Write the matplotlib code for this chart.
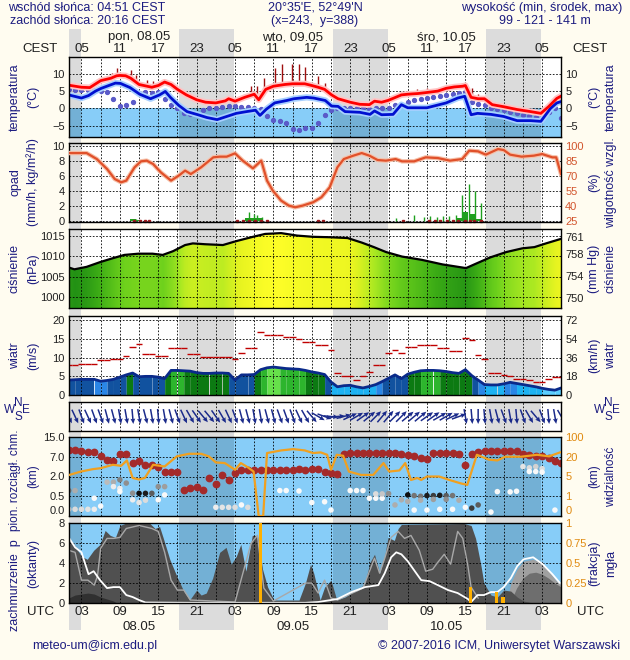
import numpy as np
import matplotlib
matplotlib.use("Agg")
import matplotlib.pyplot as plt
from matplotlib.colors import LinearSegmentedColormap, ListedColormap, BoundaryNorm, Normalize

plt.rcParams['font.family'] = ['Liberation Sans', 'DejaVu Sans']
plt.rcParams['font.size'] = 8

NAVY = '#1c1c80'
BG = '#fffcf0'
SKY = '#87cdf8'
ORANGE = '#f0a020'

# time axis: hours after 00 UTC 08.05
T_START, T_END = 1.05, 77.95
SUNRISE = 2 + 51 / 60    # 04:51 CEST
SUNSET = 18 + 16 / 60    # 20:16 CEST
hours = np.arange(1, 79)

# ---------------- temperature ----------------
temp_t = [1, 3, 4.3, 5.4, 6, 7.6, 8.5, 9, 9.9, 10.7, 12, 14, 15, 16, 17, 18, 19.4, 21, 22.4, 24,
          25.5, 26, 27, 28.5, 30, 30.7, 31.8, 33, 34.8, 36, 37.9, 39, 40, 41, 42.1, 43.1, 45, 46.5, 48, 48.8,
          49.9, 50.9, 51.7, 53, 54, 55.6, 57, 58.7, 60, 61.3, 62.6, 63, 63.9, 65, 66, 67.2, 69, 71.1, 73.2, 74.8,
          76, 77.3, 78]
temp = [6.7, 6.1, 6.0, 7.3, 8.0, 8.7, 9.4, 9.5, 9.4, 8.7, 6.9, 6.1, 6.6, 7.6, 6.9, 5.5, 3.9, 2.5, 1.8, 1.6,
        2.2, 2.8, 2.1, 3.2, 4.1, 2.5, 5.5, 6.4, 6.9, 7.1, 7.1, 6.6, 6.1, 5.5, 3.9, 2.8, 1.8, 1.2, 1.1, 2.1,
        1.8, 2.3, 2.9, 3.9, 4.1, 4.3, 4.6, 5.0, 5.8, 6.2, 6.4, 6.6, 3.2, 2.8, 2.8, 1.1, 0.5, -0.3, -0.9, -1.4,
        0.5, 2.9, 3.6]
dew_t = [1.0, 3.0, 4.1, 5.2, 6.1, 8.3, 9.1, 10.6, 12.1, 13.8, 15.2, 16.1, 16.9, 18.2, 19.5, 21.2, 22.6, 24.2,
         25.7, 27.2, 28.8, 30.2, 30.9, 31.9, 33.2, 35.1, 36.2, 38.2, 39.3, 41.1, 42.1, 43.1, 44.2, 46.5, 48.1,
         48.8, 49.9, 51.7, 53.0, 54.0, 57.0, 60.0, 61.8, 62.9, 63.9, 64.9, 67.0, 69.0, 71.1, 73.2, 74.8, 76.3,
         77.3, 78.0]
dew = [3.9, 3.0, 3.7, 5.0, 5.8, 7.3, 7.2, 6.0, 4.1, 2.8, 3.9, 4.9, 3.2, 0.9, -0.9, -1.8, -2.6, -3.2,
       -2.3, -1.4, -0.9, -0.5, -2.0, -0.2, 1.6, 2.3, 2.8, 3.2, 3.0, 2.3, 0.7, 0.6, -0.9, -1.1, -1.7,
       -0.7, -1.8, -1.7, 1.1, 0.2, 0.2, 1.6, 3.0, 3.5, -1.8, -1.4, -1.7, -2.3, -3.5, -3.5, -3.7, 0.0,
       1.6, 2.0]
ground_t = [5.5, 5.3, 5.2, 5.3, 5.3, 5.0, 4.6, 2.8, 0.6, 0.9, 2.0, 4.4, 4.6, 4.4, 4.6, 2.8, 0.9, 0.0, -1.4, -1.7,
            -1.7, -0.5, 0.0, 0.2, 0.5, 0.7, 0.6, 0.5, 0.3, 0.2, -0.2, -2.1, -3.2, -3.7, -4.1, -6.0, -6.2, -5.7,
            -5.5, -4.1, -1.8, -0.5, 0.0, 0.1, 0.2, 0.1, 0.0, -0.2, 0.0, 0.1, 0.2, 1.1, 1.1, 1.8, 2.3, 2.8, 3.0,
            3.4, 3.7, 3.9, 4.1, 4.4, 4.6, 1.8, 1.2, 0.9, 0.2, -0.2, -0.5, -0.9, -1.4, -2.0, -2.3, -2.5, -1.8,
            -0.9, 0.0, -2.6]
tbar_t = [5.4, 7.7, 8.6, 10.8, 11.5, 13.2, 14.2, 16.0, 19.7, 21.5, 29.5, 30.5, 31.5, 33.2, 34.4, 35.9, 37.0,
          38.0, 40.0, 41.0, 43.5, 45.0, 47.0, 55.5, 57.0, 58.5, 60.0, 61.5, 62.5, 63.0, 64.0, 65.0, 67.0, 69.0,
          71.0, 73.0, 76.2]
tbar_lo = [7.3, 8.6, 9.4, 8.7, 8.0, 6.5, 6.1, 7.6, 3.6, 2.3, 3.5, 2.6, 5.2, 6.5, 6.9, 7.1, 7.1, 7.1, 6.1, 5.5,
           2.6, 1.8, 1.2, 4.3, 4.6, 5.0, 5.8, 6.2, 6.4, 3.5, 3.2, 2.8, 1.1, 0.5, -0.3, -0.9, 0.5]
tbar_hi = [8.3, 10.1, 11.5, 11.0, 9.6, 8.3, 7.8, 8.3, 4.4, 2.9, 6.4, 6.4, 8.7, 11.5, 12.8, 12.8, 12.8, 11.9,
           9.2, 7.3, 3.3, 2.5, 1.8, 5.5, 5.8, 6.0, 6.6, 7.0, 7.2, 6.6, 6.0, 4.1, 1.8, 1.2, 0.3, -0.3, 1.5]

# ---------------- precipitation / humidity ----------------
prec_t = [11, 12, 13, 29, 30, 31, 55, 56, 57, 62, 63, 64, 65]
prec = [0.3, 0.15, 0.05, 0.4, 0.5, 0.4, 0.1, 0.1, 0.1, 0.4, 1.2, 1.0, 0.3]
spike_t = [11.5, 29.2, 30.0, 30.5, 31.2, 52.2, 55.0, 56.6, 57.5, 58.5, 59.5, 60.5, 61.5, 62.5, 63.5, 64.5, 65.4]
spike = [0.35, 1.3, 1.0, 0.9, 0.6, 0.5, 0.8, 0.6, 0.7, 0.6, 0.7, 0.7, 0.8, 3.5, 5.0, 4.0, 2.5]
snow_t = [11.2, 12.1, 13.0, 13.6, 27.3, 28.2, 29.2, 30.1, 31.0, 32.0, 39.9, 40.8, 53.3, 57.3, 58.2, 59.1,
          60.1, 61.0, 61.9, 62.9, 63.8, 64.4, 65.4]
hum_t = [1.1, 3.8, 5.4, 7.0, 8.2, 9.2, 10.0, 11.3, 12.3, 13.2, 14.2, 15.4, 17.0, 18.2, 19.2, 20.1, 21.7, 23.6,
         24.6, 25.7, 27.0, 28.2, 29.8, 31.1, 32.0, 32.9, 34.2, 35.4, 36.4, 37.6, 39.2, 40.5, 41.8, 43.0, 44.0,
         45.5, 46.8, 48.0, 49.3, 50.6, 52.1, 53.1, 55.0, 56.8, 58.7, 60.6, 62.5, 63.6, 65.0, 66.2, 68.1, 69.0,
         70.0, 71.8, 73.7, 75.0, 76.6, 77.2, 77.95]
hum = [93.3, 93.3, 87.3, 77.3, 67.3, 64.0, 65.7, 79.0, 85.0, 85.7, 82.3, 74.0, 65.7, 70.7, 75.7, 72.3, 79.0, 89.0,
       89.7, 89.7, 93.0, 85.7, 78.0, 85.7, 65.7, 55.7, 45.7, 40.7, 39.0, 40.7, 44.0, 49.0, 59.0, 79.0, 87.3,
       90.7, 93.3, 90.7, 86.3, 85.7, 87.3, 85.0, 85.0, 89.0, 88.3, 85.7, 87.3, 95.7, 95.0, 91.7, 97.3, 96.3,
       91.7, 89.7, 90.7, 92.3, 89.0, 89.0, 72.3]

# ---------------- pressure ----------------
pres_t = [1.1, 1.9, 3.8, 6.0, 7.9, 9.7, 11.9, 14.1, 15.7, 17.3, 19.2, 20.4, 22.3, 25.1, 27.3, 29.8, 31.7, 34.2,
          36.7, 39.2, 41.8, 44.6, 46.8, 48.7, 50.6, 53.1, 56.2, 59.4, 63.1, 64.7, 66.9, 69.4, 71.9, 73.8, 75.6,
          77.95]
pres = [1007.2, 1006.8, 1007.4, 1008.6, 1009.5, 1010.3, 1010.6, 1010.6, 1010.3, 1011.2, 1012.7, 1013.1, 1012.9,
        1012.7, 1013.7, 1014.7, 1015.4, 1015.6, 1015.0, 1014.7, 1014.6, 1014.4, 1013.3, 1012.2, 1011.0, 1009.9,
        1009.1, 1008.0, 1007.1, 1008.2, 1009.7, 1011.0, 1011.9, 1012.2, 1013.1, 1014.2]

# ---------------- wind (hourly) ----------------
wspd = [4.0, 4.1, 4.2, 4.2, 4.2, 3.7, 3.9, 4.2, 4.8, 5.4, 5.9, 4.9, 5.0, 5.0, 4.8, 4.4, 6.6, 6.6, 6.5, 6.4,
        6.0, 5.8, 5.8, 5.9, 5.9, 5.8, 4.0, 5.4, 5.4, 5.5, 6.8, 7.3, 7.5, 7.3, 7.1, 7.0, 6.9, 6.6, 6.2, 5.9,
        5.5, 3.5, 2.2, 2.5, 2.6, 2.2, 1.9, 2.3, 2.8, 3.6, 4.5, 5.4, 4.4, 5.6, 6.1, 6.5, 6.6, 6.6, 6.5, 6.3,
        6.0, 5.8, 6.8, 5.2, 4.0, 2.8, 2.7, 2.7, 3.0, 3.4, 3.1, 2.8, 2.5, 2.2, 1.8, 1.5, 1.3, 1.9]
gust = [8.1, 8.1, 8.4, 8.4, 8.4, 9.3, 9.3, 9.7, 9.7, 10.6, 12.8, 13.7, 11.1, 11.1, 10.6, 10.6, 12.7, 12.7, 12.7,
        11.1, 11.1, 10.2, 10.2, 10.2, 10.2, 10.2, 9.6, 11.3, 12.7, 12.7, 17.0, 16.1, 16.1, 16.1, 15.5, 15.5, 14.9,
        14.2, 14.2, 13.3, 13.3, 12.1, 5.8, 5.0, 5.0, 4.0, 5.0, 6.2, 8.1, 8.1, 11.2, 12.1, 11.2, 12.8, 12.8, 13.5,
        13.5, 13.5, 12.6, 12.6, 11.8, 11.8, 15.3, 14.8, 10.8, 9.7, 5.8, 5.8, 5.5, 5.1, 4.4, 4.4, 4.0, 3.4, 3.4,
        4.2, 4.9, 4.9]
wdir = [335, 335, 340, 335, 340, 340, 345, 345, 350,
        350, 355, 350, 345, 350, 355, 350, 345, 340,
        335, 330, 325, 320, 320, 325, 330, 335, 340,
        345, 345, 350, 350, 345, 345, 340, 340, 340,
        335, 330, 320, 300, 290, 275,
        265, 255, 245, 240, 235, 230,
        225, 220, 220, 225, 225, 230, 230, 230, 235, 235, 240, 240, 245, 250,
        350, 355, 0, 355, 350, 345, 340, 350, 355, 340, 330, 320, 340, 355, 350, 330]

# ---------------- cloud extent / visibility ----------------
CB_LEVELS = [0, 0.5, 2, 7, 15]
VIS_LEVELS = [0, 1, 5, 20, 100]
cloud_top = [9.6, 9.6, 9.2, 8.9, 8.9, 7.2, 6.25, 5.8, 8.2, 8.2, 5.4, 5.8, 4.95, 4.95, 4.35, 3.1, 3.1, 3.1, 0.98,
             1.1, 1.2, 0.98, 1.9, 1.45, 2.4, 1.7, 3.0, 3.55, 3.7, 3.7, 3.55, 3.55, 3.55, 3.55, 3.55, 3.7, 3.85,
             3.7, 3.85, 3.95, 3.25, 3.0, 2.6, 8.2, 8.5, 8.5, 8.5, 8.5, 8.5, 8.5, 8.5, 8.5, 8.2, 7.8, 7.4, 6.65,
             6.4, 8.5, 8.5, 8.5, 8.5, 8.2, 4.95, 8.2, 8.9, 9.2, 9.2, 9.2, 9.2, 9.2, 9.2, 8.2, 7.8, 7.4, 7.2,
             6.65, 5.8, 5.5]
layer_t = [1, 2, 1, 2, 3, 4, 5, 6, 5, 7, 8, 9, 10, 8, 9, 9, 11, 12, 13, 14, 11, 12, 13, 15, 16, 15, 16,
           24, 25, 26, 27, 28, 29, 34, 35, 37, 39, 41, 42, 45, 46, 47, 48, 49, 50, 49, 50, 51,
           52, 53, 54, 55, 56, 57, 58, 59, 60, 61, 54, 56, 58, 60, 62, 55, 57, 59, 61, 63, 64, 65,
           67, 68, 70, 71, 72, 73, 74, 75, 73, 74, 75, 77]
layer_h = [0.93, 0.93, 0.17, 0.17, 0.17, 0.17, 0.17, 0.25, 0.45, 1.57, 1.57, 1.75, 1.5, 1.23, 1.1, 0.86,
           0.73, 0.72, 0.72, 0.72, 0.41, 0.34, 0.4, 1.23, 1.23, 0.41, 0.6,
           0.22, 0.22, 0.22, 0.22, 0.28, 0.22, 0.93, 0.93, 0.9, 0.34, 0.36, 0.15, 0.93, 0.93, 0.93,
           0.45, 0.45, 0.45, 0.68, 0.68, 0.7,
           0.28, 0.41, 0.6, 0.55, 0.5, 0.55, 0.55, 0.57, 0.55, 0.55, 0.37, 0.4, 0.42, 0.42, 0.4,
           0.15, 0.15, 0.17, 0.17, 0.22, 0.2, 0.28,
           0.1, 0.85, 0.83, 0.88, 4.5, 4.2, 4.5, 4.0, 3.25, 3.25, 3.1, 0.15]
layer_c = [0.6, 0.4, 0.2, 0.2, 0.2, 0.15, 0.1, 0.0, 0.0, 0.35, 0.4, 0.55, 0.5, 0.1, 0.1, 0.0,
           0.5, 0.95, 0.9, 0.7, 0.1, 0.15, 0.2, 0.5, 0.45, 0.0, 0.0,
           0.1, 0.15, 0.15, 0.2, 0.0, 0.2, 0.0, 0.0, 0.0, 0.0, 0.0, 0.0, 0.0, 0.0, 0.0,
           0.0, 0.0, 0.0, 0.2, 0.3, 0.5,
           0.4, 0.4, 0.95, 0.6, 0.6, 0.9, 0.8, 0.9, 0.7, 0.6, 0.4, 0.4, 0.45, 0.5, 0.4,
           0.0, 0.0, 0.0, 0.0, 0.0, 0.8, 0.7,
           0.0, 0.0, 0.0, 0.0, 0.15, 0.2, 0.25, 0.2, 0.0, 0.0, 0.0, 0.0]
vis_t = [1.1, 2.9, 4.8, 6.0, 7.9, 9.2, 10.1, 11.0, 12.0, 12.9, 14.2, 16.0, 17.9, 19.8, 21.7, 22.9, 24.0, 25.4,
         27.0, 27.9, 29.0, 29.9, 30.7, 31.4, 32.0, 34.2, 36.1, 37.9, 39.2, 40.4, 41.4, 42.0, 42.9, 43.9, 44.8,
         46.7, 48.6, 50.2, 51.1, 52.7, 53.6, 54.5, 55.5, 56.1, 57.0, 58.9, 60.5, 62.3, 63.3, 64.8, 66.7, 68.0,
         69.2, 71.7, 74.2, 76.1, 77.8]
vis = [6.2, 8.75, 10.6, 11.3, 13.9, 13.1, 17.2, 4.7, 4.4, 4.7, 13.9, 12.6, 21.6, 32, 32, 21.6, 15.7, 15.2,
       10.1, 15.2, 12.0, 8.75, 0, 0, 35, 45.6, 51, 45.6, 35, 37.6, 28, 10.1, 28, 24, 8.75,
       6.2, 6.2, 15.2, 8.75, 9.6, 15.2, 4.3, 4.7, 4.3, 5, 5, 4.3, 3.6, 3.3, 28, 17.8, 17.2,
       20, 20, 28, 21.6, 37.6]

# ---------------- cloud cover (octants) / fog ----------------
cov_total_t = [1, 1.8, 3, 3.9, 4.9, 5.9, 6.7, 7.5, 8.3, 9, 9.8, 13.7, 14.5, 15.2, 15.8, 16.8, 17.9, 18.9, 19.9,
               21, 21.7, 22.5, 23.5, 24.6, 25.6, 26.4, 27.2, 27.9, 28.7, 29.7, 30.5, 31.3, 32.1, 33.1, 34.9, 37,
               38, 38.8, 39.3, 40.3, 41, 42, 42.9, 44.2, 45.2, 46.3, 47.3, 48.1, 48.8, 49.6, 50.4, 50.9, 51.9,
               52.5, 53, 62.8, 63.9, 64.6, 65.4, 65.9, 67, 68, 69, 70.1, 71.1, 72.1, 73.6, 78]
cov_total = [6.6, 5.9, 4.7, 4.4, 5.3, 5.9, 7.3, 6.8, 6.6, 7.8, 8, 8, 7.5, 7.7, 6.5, 4.4, 2.7, 1.3, 0.3,
             1.3, 0.8, 1.0, 2.5, 5.1, 5.6, 3.9, 4.7, 5.9, 3.2, 6.8, 6.8, 3.4, 1.6, 0.3, 0.3, 0.3,
             2.0, 3.9, 3.0, 0.3, 1.6, 2.3, 0.3, 0.6, 1.0, 1.3, 2.0, 4.1, 4.9, 3.0, 4.7, 6.6, 6.3,
             7.5, 7.9, 8, 7.8, 6.5, 3.9, 2.0, 0.8, 0.6, 1.3, 1.2, 0.6, 0.2, 0.0, 0.0]
cov_light_t = [69.5, 70.1, 71.1, 72.1, 73.6, 74.7, 75.8, 77.3, 78]
cov_light = [0, 2.0, 3.4, 4.2, 4.4, 4.1, 3.4, 2.2, 1.8]
cov_medium_t = [70, 71, 72, 73, 74, 75, 76, 77, 78]
cov_medium = [0, 1.5, 2.5, 3.0, 3.1, 2.9, 2.5, 2.0, 1.6]
cov_dark_t = [1, 2, 3, 4, 5, 6, 7, 8, 8.5]
cov_dark = [0.5, 0.8, 0.9, 1.0, 0.9, 0.6, 0.4, 0.2, 0]
white_t = [1, 2, 3, 4.1, 4.9, 5.9, 7, 8, 9, 10, 11, 12, 13, 20, 30, 38, 40, 43, 45.2, 47.3, 49.4, 50.4, 51.4,
           52.2, 53, 54, 55.1, 56.1, 57.4, 58.7, 60.3, 61.8, 63.4, 63.9, 64.9, 65.9, 67, 68, 69, 70.1, 71.1,
           72.1, 73.6, 75.1, 76.6, 77.8]
white_v = [6.6, 5.6, 5.1, 2.9, 3.2, 2.3, 1.5, 1.6, 1.6, 0.8, 0.6, 0.3, 0.05, 0.02, 0.02, 0.02, 0.1, 0.4, 1.1,
           1.6, 1.8, 3.0, 4.6, 5.1, 4.9, 4.2, 3.2, 2.3, 2.2, 1.8, 1.3, 1.0, 0.4, 0.1, 0.8, 0.8, 1.1, 1.1, 1.6,
           2.5, 3.7, 4.4, 4.6, 3.9, 2.9, 2.0]
grey_t = [1, 2, 3, 4, 5, 5.5, 6, 7, 8, 9, 10, 12, 14, 15, 16, 17, 18, 19, 20, 27, 29.5, 30.5, 31.5, 33,
          38, 39, 40, 41, 42, 43, 47, 48.8, 49.6, 50.4, 51.4, 52.5, 53.5, 54.5, 55.8, 56.8, 57.9, 58.7, 59.7,
          60.7, 61.8, 62.6, 63.4, 63.9, 65]
grey_v = [5.3, 5.1, 2.3, 2.3, 1.8, 2.7, 5.5, 6.5, 6.5, 6.6, 7.5, 7.8, 7.5, 7.2, 5.1, 2.3, 1.3, 1.3, 0.3, 0.1,
          6.0, 6.8, 1.5, 0.2, 2.0, 2.0, 1.0, 2.3, 0.5, 0.3, 1.5, 4.5, 3.0, 4.5, 6.6, 7.2, 6.5, 6.8, 5.3, 3.2,
          3.4, 4.1, 4.9, 3.9, 7.2, 6.5, 3.7, 1.6, 0.5]
fog_t = [31, 63.8, 67.9, 68.9]
fog = [1.0, 0.2, 0.14, 0.08]

# ================= drawing =================
W, H = 630, 660
fig = plt.figure(figsize=(6.3, 6.6), dpi=100, facecolor=BG)
nights = [(SUNSET + 24 * d, SUNRISE + 24 * (d + 1)) for d in range(-1, 4)]


def box(top, bottom):
    return [69 / W, 1 - bottom / H, 492 / W, (bottom - top) / H]


# background strip with night shading behind everything
bg = fig.add_axes([69 / W, 0, 492 / W, 1], zorder=-5)
bg.set_xlim(T_START, T_END)
bg.set_ylim(0, 1)
bg.axis('off')
for a, b in nights:
    bg.axvspan(a, b, ymin=1 - 630 / H, ymax=1 - 29 / H, color='#dcdcdc', lw=0)


def panel(top, bottom, face='white', grid=True):
    ax = fig.add_axes(box(top, bottom))
    ax.set_facecolor(face)
    ax.set_xlim(T_START, T_END)
    ax.set_xticks(np.arange(3, 78, 3))
    ax.tick_params(length=0, labelbottom=False, labelsize=8, pad=3, colors='#202020')
    if grid:
        ax.grid(True, color='black', ls=(0, (2, 2)), lw=0.6, zorder=2.5)
    for s in ax.spines.values():
        s.set_linewidth(1.0)
        s.set_zorder(10)
    for a, b in nights:
        ax.axvspan(a, b, color='black', alpha=0.14, lw=0, zorder=0.6)
    return ax


def right_axis(ax, lim, ticks, labels=None, color='#202020'):
    tw = ax.twinx()
    tw.set_ylim(*lim)
    tw.set_yticks(ticks)
    if labels is not None:
        tw.set_yticklabels(labels)
    tw.tick_params(length=0, labelsize=8, pad=3, colors=color)
    for s in tw.spines.values():
        s.set_visible(False)
    return tw


def side_labels(top, bottom, left, right, size=9, shift=0):
    y = 1 - (top + bottom) / 2 / H
    fig.text(15 / W, y - shift / H, left[0], rotation=90, ha='center', va='center', color=NAVY, fontsize=size)
    fig.text(33 / W, y, left[1], rotation=90, ha='center', va='center', color=NAVY, fontsize=size)
    fig.text(594 / W, y, right[0], rotation=90, ha='center', va='center', color=NAVY, fontsize=size)
    fig.text(611 / W, y, right[1], rotation=90, ha='center', va='center', color=NAVY, fontsize=size)


# ---- temperature ----
ax = panel(57, 137)
ax.axhspan(-30, 0, color=SKY, zorder=0.3, lw=0)
ax.set_ylim(-8.2, 14.8)
ax.set_yticks([-5, 0, 5, 10])
ax.vlines(tbar_t, tbar_lo, tbar_hi, color='#a01010', lw=1, zorder=3)
ax.plot(hours, ground_t, 'o', ms=2.8, color='#5a5ac8', zorder=3)
ax.plot(dew_t, dew, color='#a8d0ff', lw=4.5, zorder=3, solid_capstyle='butt')
ax.plot(temp_t, temp, color='#ffc4c4', lw=4.5, zorder=3, solid_capstyle='butt')
ax.plot(dew_t, dew, color='#0010d0', lw=2, zorder=4)
ax.plot(temp_t, temp, color='#ff0000', lw=2, zorder=4)
right_axis(ax, ax.get_ylim(), [-5, 0, 5, 10])
side_labels(57, 137, ("temperatura", "(°C)"), ("(°C)", "temperatura"))

# ---- precipitation / humidity ----
ax = panel(143, 222)
ax.set_ylim(-0.1, 10.45)
ax.set_yticks(range(0, 11, 2))
ax.bar(prec_t, prec, width=0.9, color='#1ea01e', zorder=3)
ax.vlines(spike_t, 0, spike, color='#1ea01e', lw=1, zorder=3)
ax.plot(snow_t, np.zeros(len(snow_t)), 's', ms=2.0, color='#9a1a1a', zorder=5, clip_on=False)
hx = right_axis(ax, (25 - 7.5 * 0.1, 25 + 7.5 * 10.45), range(25, 101, 15), color='#d2552d')
hx.plot(hum_t, hum, color='#f6c0a8', lw=3.2, zorder=2)
hx.plot(hum_t, hum, color='#e0502a', lw=1.6, zorder=3)
side_labels(143, 222, ("opad", "(mm/h, kg/m²/h)"), ("(%)", "wilgotność wzgl."))

# ---- pressure ----
ax = panel(229, 308)
pres_cmap = LinearSegmentedColormap.from_list(
    'pres', ['#1e8c14', '#3cac16', '#6cd01c', '#a8e822', '#e8f420', '#ffff28'])
xs = np.linspace(T_START, T_END, 500)
shade = np.interp(xs, pres_t, pres)[None, :]
img = ax.imshow(shade, extent=(T_START, T_END, 990, 1020), origin='lower', aspect='auto',
                cmap=pres_cmap, norm=Normalize(1006.5, 1015.8), zorder=1, interpolation='bilinear')
poly = ax.fill_between(pres_t, 990, pres, facecolor='none', edgecolor='none')
img.set_clip_path(poly.get_paths()[0], transform=ax.transData)
ax.plot(pres_t, pres, color='black', lw=1.6, zorder=4)
ax.set_xlim(T_START, T_END)
ax.set_ylim(997.4, 1016.6)
ax.set_yticks([1000, 1005, 1010, 1015])
right_axis(ax, (997.4 / 1.33322, 1016.6 / 1.33322), [750, 754, 758, 761])
side_labels(229, 308, ("ciśnienie", "(hPa)"), ("(mm Hg)", "ciśnienie"))

# ---- wind speed ----
ax = panel(316, 395)
ax.set_ylim(0, 21.2)
ax.set_yticks(range(0, 21, 5))
wind_cmap = ListedColormap(['#5ccfff', '#1db2f2', '#2a86e6', '#11529f', '#0c7a12', '#2db52d', '#66e04a'])
wind_norm = BoundaryNorm([0, 2.0, 3.2, 4.0, 5.5, 6.5, 7.2, 40], wind_cmap.N)
for i in range(len(hours) - 1):
    seg = wspd[i:i + 2]
    ax.fill_between(hours[i:i + 2], 0, seg, color=wind_cmap(wind_norm(np.mean(seg))), lw=0, zorder=1)
ax.plot(hours, wspd, color='#0a2a8a', lw=2, zorder=4)
ax.hlines(gust, hours - 0.5, hours + 0.5, color='#c00000', lw=1, zorder=4)
right_axis(ax, (0, 21.2 * 3.6), range(0, 73, 18))
side_labels(316, 395, ("wiatr", "(m/s)"), ("(km/h)", "wiatr"))

# ---- wind direction ----
ax = panel(402, 431, grid=False)
ax.set_yticks([])
ax.set_ylim(0, 1)
for t in np.arange(3, 78, 3):
    ax.axvline(t, color='black', ls=(0, (2, 2)), lw=0.6, zorder=2)
rad = np.radians(wdir)
ax.quiver(hours, np.full(len(hours), 0.5), -np.sin(rad), -np.cos(rad), angles='uv', pivot='middle',
          units='dots', scale_units='dots', scale=1 / 15, width=1.5, headwidth=3.2, headlength=3.6,
          headaxislength=3.2, color='#1a2a8a', zorder=4)
for cx in (18, 608):
    fig.text(cx / W, 1 - 403 / H, "N", ha='center', va='center', color=NAVY, fontsize=8.5)
    fig.text((cx - 8) / W, 1 - 410 / H, "W", ha='center', va='center', color=NAVY, fontsize=8.5)
    fig.text((cx + 8) / W, 1 - 410 / H, "E", ha='center', va='center', color=NAVY, fontsize=8.5)
    fig.text(cx / W, 1 - 417 / H, "S", ha='center', va='center', color=NAVY, fontsize=8.5)


# ---- cloud vertical extent / visibility ----
def km_fwd(y):
    return np.interp(np.asarray(y, float), CB_LEVELS, range(5))


def km_inv(i):
    return np.interp(np.asarray(i, float), range(5), CB_LEVELS)


def vis_fwd(y):
    return np.interp(np.asarray(y, float), VIS_LEVELS, range(5))


def vis_inv(i):
    return np.interp(np.asarray(i, float), range(5), VIS_LEVELS)


ax = panel(437, 516, face=SKY)
ax.set_yscale('function', functions=(km_fwd, km_inv))
ax.set_ylim(0, 15.25)
ax.set_yticks(CB_LEVELS)
ax.set_yticklabels([f"{v:.1f}" for v in CB_LEVELS])
ax.get_yticklabels()[0].set_va('bottom')
ax.scatter(layer_t, layer_h, c=layer_c, cmap='Greys', vmin=-0.05, vmax=1.0, s=16, lw=0, zorder=3)
ax.plot(hours, cloud_top, 'o', ms=4.6, color='#a42a2a', zorder=4)
vx = ax.twinx()
vx.set_yscale('function', functions=(vis_fwd, vis_inv))
vx.set_ylim(0, 102.4)
vx.set_yticks(VIS_LEVELS)
vx.set_yticklabels([str(v) for v in VIS_LEVELS])
vx.get_yticklabels()[0].set_va('bottom')
vx.tick_params(length=0, labelsize=8, pad=3, colors='#e08a10')
for s in vx.spines.values():
    s.set_visible(False)
vx.plot(vis_t, vis, color=ORANGE, lw=1.6, zorder=3)
side_labels(437, 516, ("pion. rozciągł. chm.", "(km)"), ("(km)", "widzialność"), size=8.5, shift=4)

# ---- cloud cover / fog ----
ax = panel(523, 603, face=SKY)
ax.set_ylim(0, 8.05)
ax.set_yticks(range(0, 9, 2))
ax.fill_between(cov_light_t, 0, cov_light, color='#a0a0a0', lw=0, zorder=1)
ax.fill_between(cov_medium_t, 0, cov_medium, color='#6e6e6e', lw=0, zorder=1.1)
ax.fill_between(cov_total_t, 0, cov_total, color='#505050', lw=0, zorder=1.2)
ax.fill_between(cov_dark_t, 0, cov_dark, color='#303030', lw=0, zorder=1.3)
ax.plot(grey_t, grey_v, color='#a8a8a8', lw=1, zorder=3)
ax.plot(white_t, white_v, color='white', lw=1.3, zorder=3)
fx = right_axis(ax, (0, 8.05 / 8), [0, 0.25, 0.5, 0.75, 1], ['0', '0.25', '0.5', '0.75', '1'],
                color='#e08a10')
fx.bar(fog_t, fog, width=0.5, color='#ffb000', zorder=3)
side_labels(523, 603, ("zachmurzenie  p", "(oktanty)"), ("(frakcja)", "mgła"), shift=22)

# ---- time labels ----
for t in range(3, 78, 6):
    bg.text(t, 1 - 49 / H, f"{(t + 2) % 24:02d}", ha='center', va='center', fontsize=9.5, color='#202020')
    bg.text(t, 1 - 612 / H, f"{t % 24:02d}", ha='center', va='center', fontsize=9.5, color='#202020')
for t, day, date in [(12, "pon, 08.05", "08.05"), (36, "wto, 09.05", "09.05"), (60, "śro, 10.05", "10.05")]:
    bg.text(t, 1 - 37 / H, day, ha='center', va='center', fontsize=9.5, color='#202020')
    bg.text(t, 1 - 627 / H, date, ha='center', va='center', fontsize=9.5, color='#202020')
for x in (40, 590):
    fig.text(x / W, 1 - 49 / H, "CEST", ha='center', va='center', fontsize=9.5, color='#202020')
    fig.text(x / W, 1 - 612 / H, "UTC", ha='center', va='center', fontsize=9.5, color='#202020')

# ---- header / footer ----
fig.text(8 / W, 1 - 8 / H, "wschód słońca: 04:51 CEST", ha='left', va='center', color=NAVY, fontsize=9)
fig.text(10 / W, 1 - 21 / H, "zachód słońca: 20:16 CEST", ha='left', va='center', color=NAVY, fontsize=9)
fig.text(315 / W, 1 - 8 / H, "20°35'E, 52°49'N", ha='center', va='center', color=NAVY, fontsize=9)
fig.text(315 / W, 1 - 21 / H, "(x=243,  y=388)", ha='center', va='center', color=NAVY, fontsize=9)
fig.text(622 / W, 1 - 8 / H, "wysokość (min, środek, max)", ha='right', va='center', color=NAVY, fontsize=9)
fig.text(545 / W, 1 - 21 / H, "99 - 121 - 141 m", ha='center', va='center', color=NAVY, fontsize=9)
fig.text(95 / W, 1 - 646 / H, "meteo-um@icm.edu.pl", ha='center', va='center', color=NAVY, fontsize=9)
fig.text(620 / W, 1 - 646 / H, "© 2007-2016 ICM, Uniwersytet Warszawski", ha='right', va='center',
         color=NAVY, fontsize=9)

fig.savefig("out.png", dpi=100, facecolor=BG)
